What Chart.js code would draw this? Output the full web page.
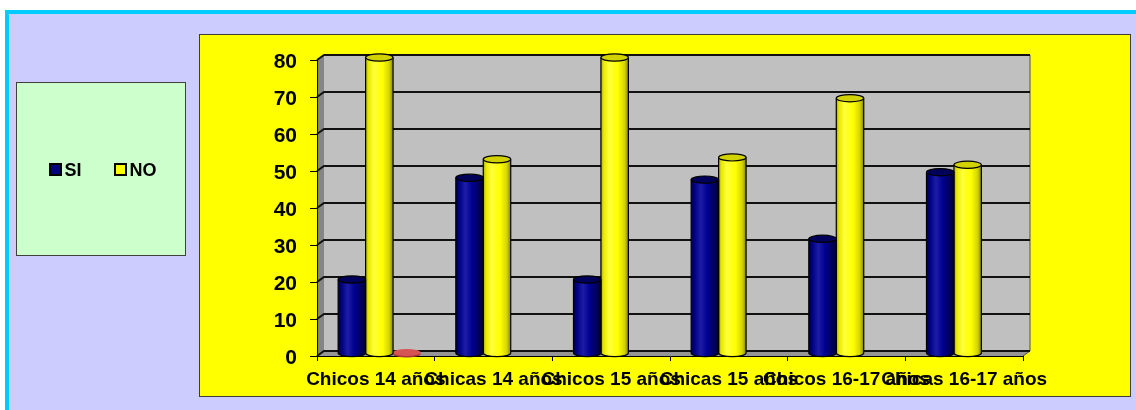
<!DOCTYPE html>
<html>
<head>
<meta charset="utf-8">
<title>SI / NO por grupo</title>
<script src="https://cdn.jsdelivr.net/npm/chart.js@4/dist/chart.umd.min.js"></script>
<style>
  html, body { margin: 0; padding: 0; background: #ffffff; }
  #wrap { width: 1136px; height: 410px; position: relative; }
  canvas { display: block; }
</style>
</head>
<body>
<div id="wrap"><canvas id="chart" width="1136" height="410"></canvas></div>
<script>
// ---- data ----
const categories = ['Chicos 14 años', 'Chicas 14 años', 'Chicos 15 años', 'Chicas 15 años', 'Chicos 16-17 años', 'Chicas 16-17 años'];
const siValues = [20, 47.5, 20, 47, 31, 49];
const noValues = [80, 52.5, 80, 53, 69, 51];
const nsValues = [0, null, null, null, null, null];
const yTickValues = [0, 10, 20, 30, 40, 50, 60, 70, 80];
const legendLabels = ['SI', 'NO'];

// ---- look ----
const FONT = '"Liberation Sans", Arial, Helvetica, sans-serif';
const DEPTH = { dx: 7, dy: -5 };           // offset of the back wall from the front plane
const PALETTES = {
  SI: {
    swatch: '#000080',
    top: '#00005a',
    body: [[0, '#00003c'], [0.12, '#000084'], [0.35, '#1c1ca6'], [0.6, '#000090'], [0.85, '#00005c'], [1, '#00002c']]
  },
  NO: {
    swatch: '#ffff00',
    top: '#d2d200',
    body: [[0, '#a8a800'], [0.1, '#e8e800'], [0.3, '#ffff3a'], [0.62, '#ffff00'], [0.86, '#d4d400'], [1, '#858500']]
  },
  'NS/NC': {
    swatch: '#d04848',
    top: '#d65454',
    side: '#a53535'
  }
};

// panel, background and 3D walls
const backdrop = {
  id: 'backdrop',
  beforeDraw(chart) {
    const ctx = chart.ctx;
    const W = chart.width, H = chart.height;
    const { left: L, right: R, top: T, bottom: B } = chart.chartArea;
    const { dx, dy } = DEPTH;
    ctx.save();
    ctx.fillStyle = '#ffffff';
    ctx.fillRect(0, 0, W, H);
    ctx.fillStyle = '#00ccff';
    ctx.fillRect(5, 10, W - 5, H - 10);
    ctx.fillStyle = '#ccccff';
    ctx.fillRect(9, 14, W - 9, H - 14);

    // yellow plot panel
    ctx.fillStyle = '#ffff00';
    ctx.fillRect(199.5, 34.5, 931, 362);
    ctx.strokeStyle = '#3c3c3c';
    ctx.lineWidth = 1;
    ctx.strokeRect(199.5, 34.5, 931, 362);

    // legend panel
    ctx.fillStyle = '#ccffcc';
    ctx.fillRect(16.5, 82.5, 169, 173);
    ctx.strokeStyle = '#404040';
    ctx.strokeRect(16.5, 82.5, 169, 173);

    // back wall
    ctx.fillStyle = '#c0c0c0';
    ctx.fillRect(L + dx, T + dy, R - L, B - T);
    // side wall
    ctx.fillStyle = '#858585';
    ctx.beginPath();
    ctx.moveTo(L, T); ctx.lineTo(L + dx, T + dy); ctx.lineTo(L + dx, B + dy); ctx.lineTo(L, B);
    ctx.closePath(); ctx.fill();
    // floor
    ctx.fillStyle = '#959595';
    ctx.beginPath();
    ctx.moveTo(L, B); ctx.lineTo(L + dx, B + dy); ctx.lineTo(R + dx, B + dy); ctx.lineTo(R, B);
    ctx.closePath(); ctx.fill();
    ctx.strokeStyle = '#505050';
    ctx.lineWidth = 1;
    ctx.beginPath();
    ctx.moveTo(R, B); ctx.lineTo(R + dx, B + dy); ctx.lineTo(R + dx, T + dy);
    ctx.stroke();

    // grid lines on the walls
    const ys = chart.scales.y;
    ctx.strokeStyle = '#111111';
    ctx.lineWidth = 2;
    yTickValues.forEach(v => {
      const yf = ys.getPixelForValue(v);
      ctx.beginPath();
      ctx.moveTo(L, yf);
      ctx.lineTo(L + dx, yf + dy);
      ctx.lineTo(R + dx, yf + dy);
      ctx.stroke();
    });
    ctx.restore();
  },
  afterDraw(chart) {
    // legend entries
    const ctx = chart.ctx;
    ctx.save();
    ctx.font = 'bold 18px ' + FONT;
    ctx.textBaseline = 'alphabetic';
    ctx.textAlign = 'left';
    const slots = [50, 115];
    legendLabels.forEach((lab, i) => {
      const x = slots[i];
      ctx.fillStyle = PALETTES[lab].swatch;
      ctx.fillRect(x, 164, 11, 11);
      ctx.strokeStyle = '#000000';
      ctx.lineWidth = 2;
      ctx.strokeRect(x, 164, 11, 11);
      ctx.fillStyle = '#000000';
      ctx.fillText(lab, x + 14.5, 176);
    });
    ctx.restore();
  }
};

function cylinder(ctx, x, yTop, yBase, w, pal) {
  const rx = w / 2, ry = 3.6;
  const g = ctx.createLinearGradient(x - rx, 0, x + rx, 0);
  pal.body.forEach(([o, c]) => g.addColorStop(o, c));
  ctx.beginPath();
  ctx.moveTo(x - rx, yTop);
  ctx.lineTo(x - rx, yBase);
  ctx.ellipse(x, yBase, rx, ry, 0, Math.PI, 0, true);
  ctx.lineTo(x + rx, yTop);
  ctx.closePath();
  ctx.fillStyle = g;
  ctx.fill();
  ctx.strokeStyle = '#000000';
  ctx.lineWidth = 1.2;
  ctx.beginPath();
  ctx.moveTo(x - rx, yTop);
  ctx.lineTo(x - rx, yBase);
  ctx.ellipse(x, yBase, rx, ry, 0, Math.PI, 0, true);
  ctx.lineTo(x + rx, yTop);
  ctx.stroke();
  ctx.beginPath();
  ctx.ellipse(x, yTop, rx, ry, 0, 0, Math.PI * 2);
  ctx.fillStyle = pal.top;
  ctx.fill();
  ctx.stroke();
}

function disc(ctx, x, yBase, w, pal) {
  const rx = w / 2, ry = 3.6;
  ctx.beginPath();
  ctx.ellipse(x, yBase + 0.5, rx, ry, 0, 0, Math.PI * 2);
  ctx.fillStyle = pal.side;
  ctx.fill();
  ctx.beginPath();
  ctx.ellipse(x, yBase - 1, rx, ry, 0, 0, Math.PI * 2);
  ctx.fillStyle = pal.top;
  ctx.fill();
}

// bars rendered as cylinders standing in the middle of the depth
const cylinders = {
  id: 'cylinders',
  beforeDatasetDraw(chart, args) {
    const ctx = chart.ctx;
    const ds = chart.data.datasets[args.index];
    const pal = PALETTES[ds.label];
    const meta = args.meta;
    ctx.save();
    ctx.translate(DEPTH.dx / 2, DEPTH.dy / 2);
    meta.data.forEach((bar, i) => {
      const v = ds.data[i];
      if (v === null || v === undefined || bar.skip) return;
      const p = bar.getProps(['x', 'y', 'base', 'width'], true);
      if (!isFinite(p.y)) return;
      if (pal.body) cylinder(ctx, p.x, p.y, p.base, p.width, pal);
      else disc(ctx, p.x, p.base, p.width, pal);
    });
    ctx.restore();
    return false;
  }
};

new Chart(document.getElementById('chart'), {
  type: 'bar',
  data: {
    labels: categories,
    datasets: [
      { label: 'SI', data: siValues, backgroundColor: PALETTES.SI.swatch },
      { label: 'NO', data: noValues, backgroundColor: PALETTES.NO.swatch },
      { label: 'NS/NC', data: nsValues, backgroundColor: PALETTES['NS/NC'].swatch }
    ]
  },
  options: {
    responsive: false,
    animation: false,
    devicePixelRatio: 1,
    categoryPercentage: 0.7,
    barPercentage: 1.0,
    layout: { padding: { left: 200, right: 113, top: 60, bottom: 0 } },
    plugins: {
      legend: { display: false },
      tooltip: { enabled: false },
      title: { display: false }
    },
    scales: {
      x: {
        offset: true,
        grid: { display: true, drawOnChartArea: false, drawTicks: true, tickLength: 5, color: '#000000', offset: true },
        border: { display: true, color: '#000000', width: 1 },
        ticks: {
          autoSkip: false,
          maxRotation: 0,
          minRotation: 0,
          padding: 7,
          color: '#000000',
          font: { family: FONT, size: 19, weight: 'bold' }
        },
        afterFit(scale) { scale.height = 54; }
      },
      y: {
        min: 0,
        max: 80,
        afterBuildTicks(scale) { scale.ticks = yTickValues.map(v => ({ value: v })); },
        grid: { display: true, drawOnChartArea: false, drawTicks: true, tickLength: 7, color: '#000000' },
        border: { display: true, color: '#000000', width: 1 },
        ticks: {
          padding: 13,
          labelOffset: 2,
          color: '#000000',
          font: { family: FONT, size: 21, weight: 'bold' }
        },
        afterFit(scale) { scale.width = 117; }
      }
    }
  },
  plugins: [backdrop, cylinders]
});
</script>
</body>
</html>
